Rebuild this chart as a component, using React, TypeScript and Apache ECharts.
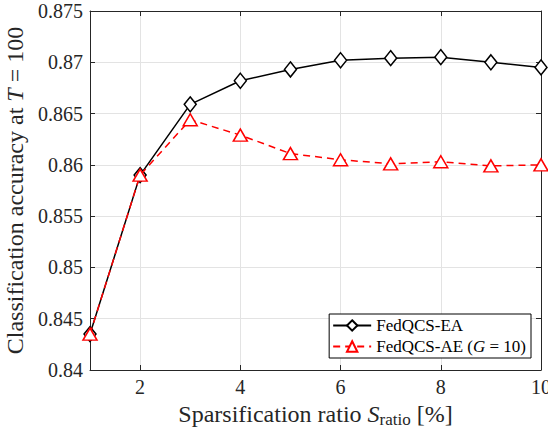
import React, { useEffect, useRef } from "react";
import * as echarts from "echarts";

const ratios = [1, 2, 3, 4, 5, 6, 7, 8, 9, 10];
const fedqcsEA = [0.8435, 0.8590, 0.8659, 0.8682, 0.8693, 0.8702, 0.8704, 0.8705, 0.8700, 0.8695];
const fedqcsAE = [0.8435, 0.8590, 0.8644, 0.8629, 0.8611, 0.8605, 0.8601, 0.8603, 0.8599, 0.8600];
const xTicks = [2, 4, 6, 8, 10];
const seriesNames = ["FedQCS-EA", "FedQCS-AE (G = 10)"];

const FONT = "Liberation Serif";
const AX = "#262626";

export default function App() {
  const ref = useRef<HTMLDivElement>(null);
  useEffect(() => {
    const chart = echarts.init(ref.current!, null, { renderer: "svg" });
    const ea = ratios.map((r, i) => [r, fedqcsEA[i]]);
    const ae = ratios.map((r, i) => [r, fedqcsAE[i]]);
    chart.setOption({
      animation: false,
      backgroundColor: "#fff",
      grid: { left: 90, right: 7, top: 11, bottom: 59, containLabel: false, outerBoundsMode: "none" },
      legend: {
        orient: "vertical",
        right: 17,
        bottom: 71,
        backgroundColor: "#fff",
        borderColor: "#000",
        borderWidth: 1,
        borderRadius: 0,
        padding: [3, 5, 3, 3],
        itemGap: 4,
        itemWidth: 38,
        itemHeight: 13,
        formatter: (name: string) =>
          name === seriesNames[1] ? "{t|FedQCS-AE (}{i|G}{t| = 10)}" : "{t|" + name + "}",
        textStyle: {
          fontFamily: FONT,
          fontSize: 17,
          color: "#000",
          rich: {
            t: { fontFamily: FONT, fontSize: 17, color: "#000" },
            i: { fontFamily: FONT, fontSize: 17, color: "#000", fontStyle: "italic" },
          },
        },
        data: seriesNames,
      },
      xAxis: [
        {
          type: "value",
          min: 1,
          max: 10,
          name: "{t|Sparsification ratio }{i|S}{s|ratio}{t| [%]}",
          nameLocation: "middle",
          nameGap: 26,
          nameTextStyle: {
            fontFamily: FONT,
            fontSize: 24,
            color: AX,
            rich: {
              t: { fontFamily: FONT, fontSize: 24, color: AX },
              i: { fontFamily: FONT, fontSize: 24, color: AX, fontStyle: "italic" },
              s: { fontFamily: FONT, fontSize: 17, color: AX, padding: [11, 0, 0, 0] },
            },
          },
          axisLine: { show: true, onZero: false, lineStyle: { color: AX, width: 1 } },
          axisTick: { show: true, inside: true, length: 5, customValues: xTicks, lineStyle: { color: AX } },
          axisLabel: {
            show: true,
            customValues: xTicks,
            fontFamily: FONT,
            fontSize: 20,
            color: AX,
            margin: 7,
          },
          splitLine: { show: true, lineStyle: { color: "#e3e3e3", width: 1 } },
        },
        {
          type: "value",
          min: 1,
          max: 10,
          position: "top",
          axisLine: { show: true, onZero: false, lineStyle: { color: AX, width: 1 } },
          axisTick: { show: true, inside: true, length: 5, customValues: xTicks, lineStyle: { color: AX } },
          axisLabel: { show: false },
          splitLine: { show: false },
        },
      ],
      yAxis: [
        {
          type: "value",
          min: 0.84,
          max: 0.875,
          interval: 0.005,
          name: "{t|Classification accuracy at }{i|T}{t| = 100}",
          nameLocation: "middle",
          nameGap: 55,
          nameTextStyle: {
            fontFamily: FONT,
            fontSize: 24,
            color: AX,
            rich: {
              t: { fontFamily: FONT, fontSize: 24, color: AX },
              i: { fontFamily: FONT, fontSize: 24, color: AX, fontStyle: "italic" },
            },
          },
          axisLine: { show: true, onZero: false, lineStyle: { color: AX, width: 1 } },
          axisTick: { show: true, inside: true, length: 5, lineStyle: { color: AX } },
          axisLabel: {
            fontFamily: FONT,
            fontSize: 20,
            color: AX,
            margin: 7,
            formatter: (v: number) => String(parseFloat(v.toFixed(3))),
          },
          splitLine: { show: true, lineStyle: { color: "#e3e3e3", width: 1 } },
        },
        {
          type: "value",
          min: 0.84,
          max: 0.875,
          interval: 0.005,
          position: "right",
          axisLine: { show: true, onZero: false, lineStyle: { color: AX, width: 1 } },
          axisTick: { show: true, inside: true, length: 5, lineStyle: { color: AX } },
          axisLabel: { show: false },
          splitLine: { show: false },
        },
      ],
      series: [
        {
          name: seriesNames[0],
          type: "line",
          xAxisIndex: 0,
          yAxisIndex: 0,
          data: ea,
          symbol: "diamond",
          symbolSize: [12, 15],
          lineStyle: { color: "#000", width: 1.5, type: "solid" },
          itemStyle: { color: "#fff", borderColor: "#000", borderWidth: 1.5 },
          z: 3,
        },
        {
          name: seriesNames[1],
          type: "line",
          xAxisIndex: 0,
          yAxisIndex: 0,
          data: ae,
          symbol: "triangle",
          symbolSize: [14, 12],
          lineStyle: { color: "#ff0000", width: 1.5, type: [7, 5] },
          itemStyle: { color: "#fff", borderColor: "#ff0000", borderWidth: 1.5 },
          z: 4,
        },
      ],
    });
    return () => chart.dispose();
  }, []);
  return <div ref={ref} style={{ width: 548, height: 429, position: "absolute", left: 0, top: 0 }} />;
}
